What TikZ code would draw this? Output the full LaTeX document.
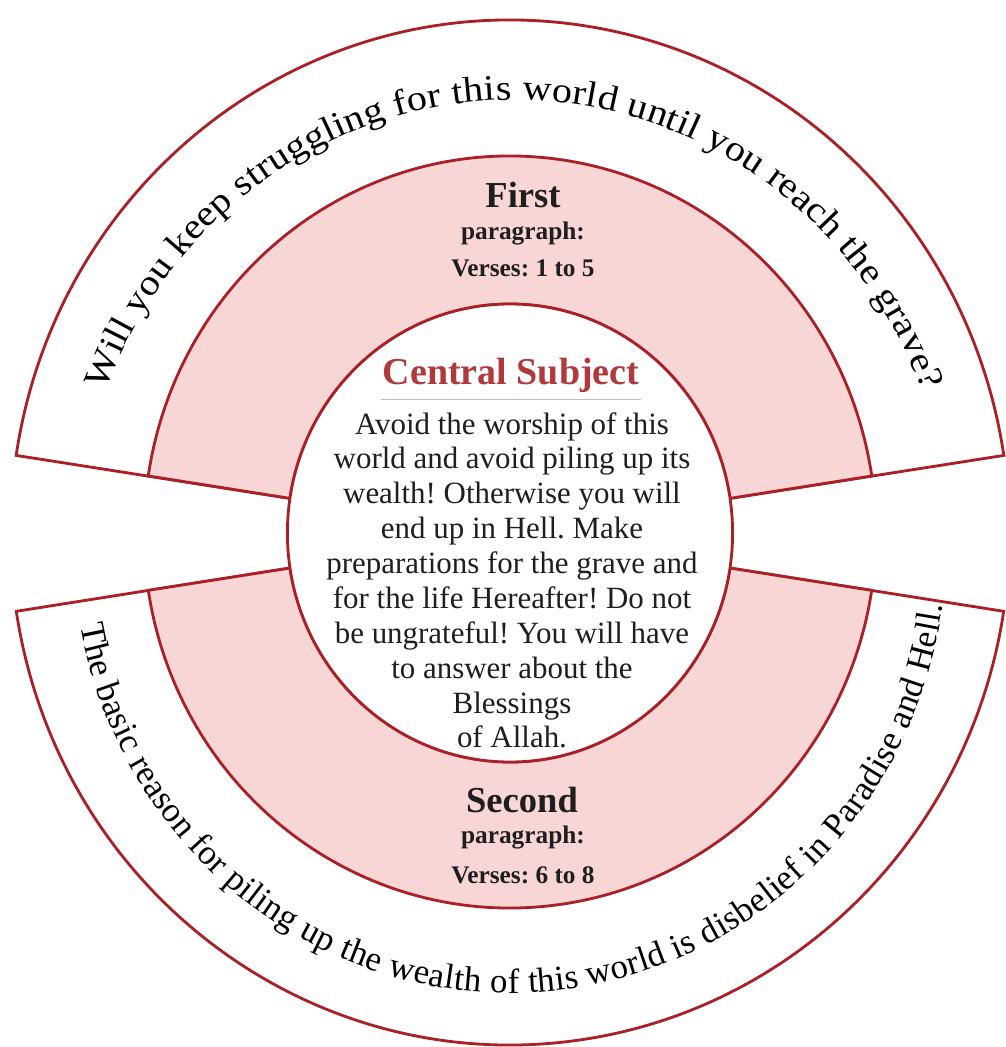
\documentclass[tikz,border=0pt]{standalone}
\usepackage{fontspec}
\setmainfont{Liberation Serif}
\newfontfamily\widefamily{Liberation Serif}[FakeStretch=1.12]
\usetikzlibrary{decorations.text}
\definecolor{RingRed}{HTML}{AA2026}
\definecolor{BandPink}{HTML}{F9D6D6}
\definecolor{HubRed}{HTML}{B0393B}
\definecolor{RuleGray}{HTML}{BDBDBD}
\definecolor{TextDark}{HTML}{1E1E1E}
\newcommand{\upperarcfont}{\widefamily\fontsize{25.5}{30}\selectfont}
\newcommand{\lowerarcfont}{\fontsize{24.8}{30}\selectfont}
\tikzset{
  ring/.style      = {draw=RingRed, line width=2pt},
  pinkband/.style  = {ring, fill=BandPink},
  whiteband/.style = {ring, fill=white},
  hubhead/.style   = {font=\fontsize{27}{30}\selectfont\bfseries, text=HubRed,
                      inner sep=1pt},
  hubtxt/.style    = {font=\fontsize{22}{24.8}\selectfont, text=TextDark,
                      align=center, inner sep=0pt},
  parhead/.style   = {font=\fontsize{26}{30}\selectfont\bfseries, text=TextDark,
                      inner sep=0pt},
  parsub/.style    = {font=\fontsize{18}{20}\selectfont\bfseries, text=TextDark,
                      inner sep=0pt},
  rulegray/.style  = {draw=RuleGray, line width=0.6pt},
}
\begin{document}
\frenchspacing
\begin{tikzpicture}[x=0.025cm, y=0.025cm]
  \useasboundingbox (-510,-514) rectangle (496,533);
  % upper half: outer band, then pink band
  \draw[whiteband] (171.3:222.6 and 229) -- (171.3:499.6 and 513)
    arc[start angle=171.3, end angle=8.7, x radius=499.6, y radius=513]
    -- (8.7:222.6 and 229)
    arc[start angle=8.7, end angle=171.3, x radius=222.6, y radius=229] -- cycle;
  \draw[pinkband] (171.3:222.6 and 229) -- (171.3:366 and 377)
    arc[start angle=171.3, end angle=8.7, x radius=366, y radius=377]
    -- (8.7:222.6 and 229)
    arc[start angle=8.7, end angle=171.3, x radius=222.6, y radius=229] -- cycle;
  % lower half
  \draw[whiteband] (188.8:222.6 and 229) -- (188.8:499.6 and 512)
    arc[start angle=188.8, end angle=351.2, x radius=499.6, y radius=512]
    -- (351.2:222.6 and 229)
    arc[start angle=351.2, end angle=188.8, x radius=222.6, y radius=229] -- cycle;
  \draw[pinkband] (188.8:222.6 and 229) -- (188.8:366 and 375)
    arc[start angle=188.8, end angle=351.2, x radius=366, y radius=375]
    -- (351.2:222.6 and 229)
    arc[start angle=351.2, end angle=188.8, x radius=222.6, y radius=229] -- cycle;
  % central disc
  \draw[whiteband] (0,0) ellipse[x radius=222.6, y radius=229];

  % texts along the outer bands
  \path[decorate, decoration={text along path, text align=fit to path,
      text={|\upperarcfont|Will you keep struggling for this world until you reach the grave?}}]
    ([shift={(4,-15)}]159.5:436 and 448)
    arc[start angle=159.5, end angle=20.5, x radius=436, y radius=448];
  \path[decorate, decoration={text along path, text align=fit to path,
      text={|\lowerarcfont|The basic reason for piling up the wealth of this world is disbelief in Paradise and Hell.}}]
    ([shift={(0,-10)}]190.5:437 and 450)
    arc[start angle=190.5, end angle=352, x radius=437, y radius=450];

  % first paragraph
  \node[parhead, anchor=base] (first) at (13,325) {First};
  \node[parsub, anchor=base] (firstpar) at (13,293) {paragraph:};
  \node[parsub, anchor=base] (firstvrs) at (13,256) {Verses: 1 to 5};

  % central subject
  \node[hubhead, anchor=base] (cs) at (1,148) {Central Subject};
  \draw[rulegray] ([yshift=-3.5pt]cs.south west) -- ([yshift=-3.5pt]cs.south east);
  \node[hubtxt, anchor=north] (hub) at (2,121) {Avoid the worship of this\\
    world and avoid piling up its\\wealth! Otherwise you will\\end up in Hell. Make\\
    preparations for the grave and\\for the life Hereafter! Do not\\
    be ungrateful! You will have\\to answer about the\\Blessings\\of Allah.};

  % second paragraph
  \node[parhead, anchor=base] (second) at (12,-279) {Second};
  \node[parsub, anchor=base] (secondpar) at (13,-310) {paragraph:};
  \node[parsub, anchor=base] (secondvrs) at (13,-350) {Verses: 6 to 8};
\end{tikzpicture}
\end{document}
